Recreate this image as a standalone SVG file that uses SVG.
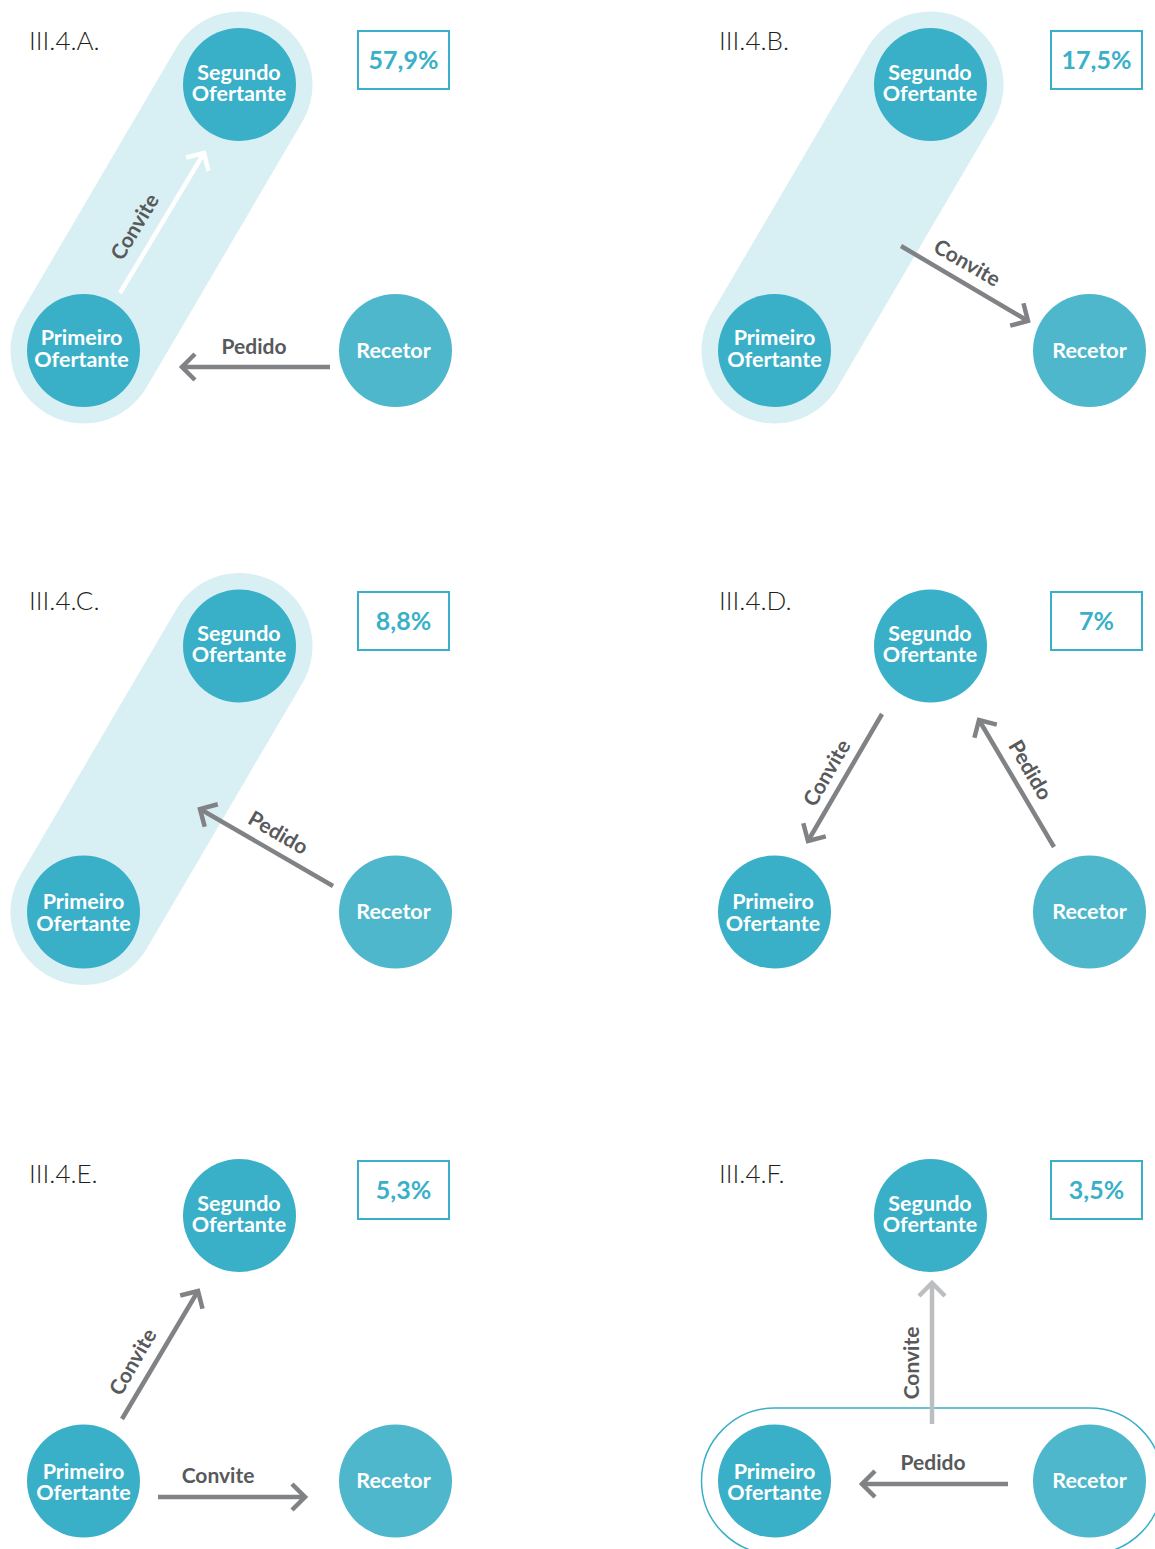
<svg xmlns="http://www.w3.org/2000/svg" width="1155" height="1549" viewBox="0 0 1155 1549">
<defs>
<style>
.bg{fill:#fff}
.caps{stroke:#d8eff4;stroke-width:146;stroke-linecap:round;fill:none}
.n1{fill:#3ab0c8}
.n2{fill:#4fb7cc}
.nt{font-family:Lato,"Open Sans","Liberation Sans",sans-serif;font-weight:700;font-size:21.5px;fill:#fff;text-anchor:middle}
.title{font-family:Lato,"Open Sans","Liberation Sans",sans-serif;font-weight:300;font-size:26px;fill:#231f20}
.pbox{fill:#fff;stroke:#3ab0c8;stroke-width:2}
.pct{font-family:Lato,"Open Sans","Liberation Sans",sans-serif;font-weight:700;font-size:25px;fill:#3ab0c8;text-anchor:middle}
.lab{font-family:Lato,"Open Sans","Liberation Sans",sans-serif;font-weight:700;font-size:21px;fill:#58595b;text-anchor:middle}
.ag{stroke:#808285;stroke-width:4.5;fill:none;marker-end:url(#mg)}
.aw{stroke:#fff;stroke-width:4.5;fill:none;marker-end:url(#mw)}
.al{stroke:#bcbec0;stroke-width:4.5;fill:none;marker-end:url(#ml)}
</style>
<marker id="mg" markerUnits="userSpaceOnUse" viewBox="-20 -20 30 40" refX="0" refY="0" markerWidth="30" markerHeight="40" orient="auto" overflow="visible">
<path d="M-13,-13 L0,0 L-13,13" fill="none" stroke="#808285" stroke-width="4.5"/>
</marker>
<marker id="mw" markerUnits="userSpaceOnUse" viewBox="-20 -20 30 40" refX="0" refY="0" markerWidth="30" markerHeight="40" orient="auto" overflow="visible">
<path d="M-13,-13 L0,0 L-13,13" fill="none" stroke="#fff" stroke-width="4.5"/>
</marker>
<marker id="ml" markerUnits="userSpaceOnUse" viewBox="-20 -20 30 40" refX="0" refY="0" markerWidth="30" markerHeight="40" orient="auto" overflow="visible">
<path d="M-13,-13 L0,0 L-13,13" fill="none" stroke="#bcbec0" stroke-width="4.5"/>
</marker>
</defs>
<rect class="bg" x="0" y="0" width="1155" height="1549"/>

<!-- groupings -->
<g id="groupings">
<line class="caps" x1="239.5" y1="84.5" x2="83.5" y2="350.5"/>
<line class="caps" x1="930.5" y1="84.5" x2="774.5" y2="350.5"/>
<line class="caps" x1="239.5" y1="646" x2="83.5" y2="912"/>
<rect x="701.5" y="1408" width="461" height="146" rx="73" ry="73" fill="none" stroke="#3ab0c8" stroke-width="1.5"/>
</g>

<!-- titles and percentages -->
<g id="titles">
<text class="title" x="29" y="50">III.4.A.</text>
<text class="title" x="719" y="50">III.4.B.</text>
<text class="title" x="29" y="610">III.4.C.</text>
<text class="title" x="719" y="610">III.4.D.</text>
<text class="title" x="29" y="1183">III.4.E.</text>
<text class="title" x="719" y="1183">III.4.F.</text>
</g>
<g id="percentages">
<rect class="pbox" x="358" y="31" width="91" height="58"/><text class="pct" x="403.5" y="69">57,9%</text>
<rect class="pbox" x="1051" y="31" width="91" height="58"/><text class="pct" x="1096.5" y="69">17,5%</text>
<rect class="pbox" x="358" y="592" width="91" height="58"/><text class="pct" x="403.5" y="630">8,8%</text>
<rect class="pbox" x="1051" y="592" width="91" height="58"/><text class="pct" x="1096.5" y="630">7%</text>
<rect class="pbox" x="358" y="1161" width="91" height="58"/><text class="pct" x="403.5" y="1199">5,3%</text>
<rect class="pbox" x="1051" y="1161" width="91" height="58"/><text class="pct" x="1096.5" y="1199">3,5%</text>
</g>

<!-- connectors -->
<g id="connectors">
<line class="aw" x1="120" y1="293" x2="204" y2="153"/>
<line class="ag" x1="330" y1="367" x2="182" y2="367"/>
<line class="ag" x1="901" y1="246" x2="1028" y2="321"/>
<line class="ag" x1="333" y1="886" x2="200" y2="809"/>
<line class="ag" x1="882" y1="714" x2="808" y2="841"/>
<line class="ag" x1="1054" y1="847" x2="979" y2="720"/>
<line class="ag" x1="122" y1="1419" x2="198" y2="1291"/>
<line class="ag" x1="158" y1="1497" x2="305" y2="1497"/>
<line class="al" x1="932" y1="1424" x2="932" y2="1283"/>
<line class="ag" x1="1008" y1="1484" x2="862" y2="1484"/>
</g>

<g id="connector-labels">
<text class="lab" transform="translate(135,227) rotate(-59)" x="0" y="7">Convite</text>
<text class="lab" x="254" y="354">Pedido</text>
<text class="lab" transform="translate(967,263) rotate(30)" x="0" y="7">Convite</text>
<text class="lab" transform="translate(278,833) rotate(30)" x="0" y="7">Pedido</text>
<text class="lab" transform="translate(827,773) rotate(-60)" x="0" y="7">Convite</text>
<text class="lab" transform="translate(1030,770) rotate(60)" x="0" y="7">Pedido</text>
<text class="lab" transform="translate(133,1362) rotate(-60)" x="0" y="7">Convite</text>
<text class="lab" x="218" y="1483">Convite</text>
<text class="lab" transform="translate(912,1363) rotate(-90)" x="0" y="7">Convite</text>
<text class="lab" x="933" y="1470">Pedido</text>
</g>

<!-- Panel A nodes -->
<g id="A-segundo"><circle class="n1" cx="239.5" cy="84.5" r="56.5"/><text class="nt" x="239" y="80">Segundo</text><text class="nt" x="239" y="101">Ofertante</text></g>
<g id="A-primeiro"><circle class="n1" cx="83.5" cy="350.5" r="56.5"/><text class="nt" x="81.5" y="345">Primeiro</text><text class="nt" x="81.5" y="367">Ofertante</text></g>
<g id="A-recetor"><circle class="n2" cx="395.5" cy="350.5" r="56.5"/><text class="nt" x="393.5" y="358">Recetor</text></g>

<!-- Panel B nodes -->
<g id="B-segundo"><circle class="n1" cx="930.5" cy="84.5" r="56.5"/><text class="nt" x="930" y="80">Segundo</text><text class="nt" x="930" y="101">Ofertante</text></g>
<g id="B-primeiro"><circle class="n1" cx="774.5" cy="350.5" r="56.5"/><text class="nt" x="774.5" y="345">Primeiro</text><text class="nt" x="774.5" y="367">Ofertante</text></g>
<g id="B-recetor"><circle class="n2" cx="1089.5" cy="350.5" r="56.5"/><text class="nt" x="1089.5" y="358">Recetor</text></g>

<!-- Panel C nodes -->
<g id="C-segundo"><circle class="n1" cx="239.5" cy="646" r="56.5"/><text class="nt" x="239" y="641">Segundo</text><text class="nt" x="239" y="662">Ofertante</text></g>
<g id="C-primeiro"><circle class="n1" cx="83.5" cy="912" r="56.5"/><text class="nt" x="83.5" y="909">Primeiro</text><text class="nt" x="83.5" y="931">Ofertante</text></g>
<g id="C-recetor"><circle class="n2" cx="395.5" cy="912" r="56.5"/><text class="nt" x="393.5" y="919">Recetor</text></g>

<!-- Panel D nodes -->
<g id="D-segundo"><circle class="n1" cx="930.5" cy="646" r="56.5"/><text class="nt" x="930" y="641">Segundo</text><text class="nt" x="930" y="662">Ofertante</text></g>
<g id="D-primeiro"><circle class="n1" cx="774.5" cy="912" r="56.5"/><text class="nt" x="773" y="909">Primeiro</text><text class="nt" x="773" y="931">Ofertante</text></g>
<g id="D-recetor"><circle class="n2" cx="1089.5" cy="912" r="56.5"/><text class="nt" x="1089.5" y="919">Recetor</text></g>

<!-- Panel E nodes -->
<g id="E-segundo"><circle class="n1" cx="239.5" cy="1215.5" r="56.5"/><text class="nt" x="239" y="1211">Segundo</text><text class="nt" x="239" y="1232">Ofertante</text></g>
<g id="E-primeiro"><circle class="n1" cx="83.5" cy="1481" r="56.5"/><text class="nt" x="83.5" y="1479">Primeiro</text><text class="nt" x="83.5" y="1500">Ofertante</text></g>
<g id="E-recetor"><circle class="n2" cx="395.5" cy="1481" r="56.5"/><text class="nt" x="393.5" y="1488">Recetor</text></g>

<!-- Panel F nodes -->
<g id="F-segundo"><circle class="n1" cx="930.5" cy="1215.5" r="56.5"/><text class="nt" x="930" y="1211">Segundo</text><text class="nt" x="930" y="1232">Ofertante</text></g>
<g id="F-primeiro"><circle class="n1" cx="774.5" cy="1481" r="56.5"/><text class="nt" x="774.5" y="1479">Primeiro</text><text class="nt" x="774.5" y="1500">Ofertante</text></g>
<g id="F-recetor"><circle class="n2" cx="1089.5" cy="1481" r="56.5"/><text class="nt" x="1089.5" y="1488">Recetor</text></g>
</svg>
